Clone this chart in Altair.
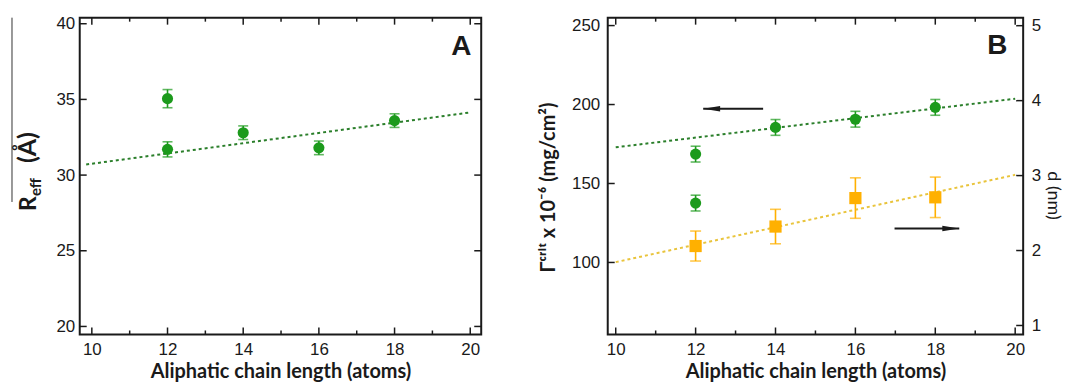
import altair as alt
import pandas as pd

# ---------------- data ----------------
# Panel A
chain_a = [12, 12, 14, 16, 18]
reff = [35.05, 31.70, 32.80, 31.80, 33.60]
reff_err = [0.60, 0.50, 0.45, 0.45, 0.45]
fit_a_x = [9.85, 20.0]
fit_a_y = [30.70, 34.14]

# Panel B, left axis (Gamma crit)
chain_b = [12, 12, 14, 16, 18]
gamma = [168.6, 137.6, 185.5, 190.7, 198.2]
gamma_err = [5.0, 5.0, 5.0, 5.0, 5.0]
fit_g_x = [10.0, 20.0]
fit_g_y = [172.9, 203.7]

# Panel B, right axis (d)
chain_d = [12, 14, 16, 18]
d_nm = [2.06, 2.32, 2.70, 2.71]
d_err = [0.20, 0.23, 0.27, 0.27]
fit_d_x = [10.0, 20.0]
fit_d_y = [1.845, 3.01]

# arrows in panel B (left-axis units)
arrow_tail_x = [13.69, 16.98]
arrow_tip_x = [12.19, 18.60]
arrow_y = [197.3, 121.5]

# ticks
x_major = [10, 12, 14, 16, 18, 20]
x_minor = [11, 13, 15, 17, 19]
a_y_ticks = [20, 25, 30, 35, 40]
b_left_ticks = [100, 150, 200, 250]
b_right_ticks = [1, 2, 3, 4, 5]

x_title = "Aliphatic chain length (atoms)"
b_left_title = "Γᶜʳⁱᵗ x 10⁻⁶ (mg/cm²)"
b_right_title = "d (nm)"
a_title_parts = ["R", "eff", "(Å)"]
panel_labels = ["A", "B"]

# ---------------- styling ----------------
WA, WB, H = 403, 417, 318
GREEN = "#1c9a1c"
GREEN_LINE = "#2b7f2b"
ORANGE = "#ffb000"
ORANGE_LINE = "#e9c43c"
INK = "#1a1a1a"
TICK_FONT = "Liberation Sans"
TITLE_FONT = "Lato"

xa_scale = alt.Scale(domain=[9.68, 20.29], nice=False, zero=False)
ya_scale = alt.Scale(domain=[19.47, 40.4], nice=False, zero=False)
xb_scale = alt.Scale(domain=[9.8, 20.2], nice=False, zero=False)
yg_scale = alt.Scale(domain=[54.4, 255.0], nice=False, zero=False)
yd_scale = alt.Scale(domain=[0.88, 5.107], nice=False, zero=False)

X_AXIS = alt.Axis(values=x_major, ticks=False, domain=False, grid=False,
                  labelFont=TICK_FONT, labelFontSize=17, labelPadding=7,
                  labelFlush=False, labelColor=INK,
                  title=x_title, titleFont=TITLE_FONT, titleFontSize=20,
                  titleFontWeight="bold", titlePadding=4, titleColor=INK)
YA_AXIS = alt.Axis(values=a_y_ticks, ticks=False, domain=False, grid=False,
                   labelFont=TICK_FONT, labelFontSize=17, labelPadding=5,
                   labelColor=INK, title=None)
YG_AXIS = alt.Axis(values=b_left_ticks, ticks=False, domain=False, grid=False,
                   labelFont=TICK_FONT, labelFontSize=17, labelPadding=8,
                   labelColor=INK, title=b_left_title, titleFont=TITLE_FONT,
                   titleFontSize=20, titleFontWeight="bold", titlePadding=13,
                   titleY=170, titleColor=INK)
YD_AXIS = alt.Axis(orient="right", values=b_right_ticks, ticks=False, domain=False,
                   grid=False, labelFont=TICK_FONT, labelFontSize=17, labelPadding=8,
                   labelColor=INK, title=b_right_title, titleFont=TITLE_FONT,
                   titleFontSize=18, titleFontWeight="normal", titlePadding=3,
                   titleY=178, titleColor=INK)


def frame_ticks(xscale, yscale, yaxis, yticks, W, left=True, right=True):
    out = []
    dmaj = pd.DataFrame({"v": x_major})
    dmin = pd.DataFrame({"v": x_minor})
    dy = pd.DataFrame({"v": yticks})
    rule = dict(color=INK, strokeWidth=1.5)
    xe = alt.X("v:Q", scale=xscale, axis=X_AXIS)
    ye = alt.Y("v:Q", scale=yscale, axis=yaxis)
    out.append(alt.Chart(dmaj).mark_rule(**rule).encode(x=xe, y=alt.value(H), y2=alt.value(H - 7)))
    out.append(alt.Chart(dmin).mark_rule(**rule).encode(x=xe, y=alt.value(H), y2=alt.value(H - 4)))
    out.append(alt.Chart(dmaj).mark_rule(**rule).encode(x=xe, y=alt.value(0), y2=alt.value(7)))
    out.append(alt.Chart(dmin).mark_rule(**rule).encode(x=xe, y=alt.value(0), y2=alt.value(4)))
    if left:
        out.append(alt.Chart(dy).mark_rule(**rule).encode(y=ye, x=alt.value(0), x2=alt.value(7)))
    if right:
        out.append(alt.Chart(dy).mark_rule(**rule).encode(y=ye, x=alt.value(W), x2=alt.value(W - 7)))
    return out


def series_layers(xs, ys, errs, xscale, yscale, yaxis, color, shape, size, cap):
    df = pd.DataFrame({"x": xs, "y": ys,
                       "lo": [a - b for a, b in zip(ys, errs)],
                       "hi": [a + b for a, b in zip(ys, errs)]})
    xe = alt.X("x:Q", scale=xscale, axis=X_AXIS)
    base = alt.Chart(df)
    err = base.mark_rule(color=color, strokeWidth=1.6).encode(
        x=xe, y=alt.Y("lo:Q", scale=yscale, axis=yaxis), y2="hi:Q")
    cap_lo = base.mark_tick(color=color, thickness=1.6, size=cap, orient="horizontal").encode(
        x=xe, y=alt.Y("lo:Q", scale=yscale, axis=yaxis))
    cap_hi = base.mark_tick(color=color, thickness=1.6, size=cap, orient="horizontal").encode(
        x=xe, y=alt.Y("hi:Q", scale=yscale, axis=yaxis))
    pts = base.mark_point(filled=True, opacity=1, shape=shape, size=size, color=color).encode(
        x=xe, y=alt.Y("y:Q", scale=yscale, axis=yaxis))
    return [err, cap_lo, cap_hi, pts]


def fit_line(xs, ys, xscale, yscale, yaxis, color):
    return alt.Chart(pd.DataFrame({"x": xs, "y": ys})).mark_line(
        color=color, strokeWidth=2, strokeDash=[3, 3]).encode(
        x=alt.X("x:Q", scale=xscale, axis=X_AXIS),
        y=alt.Y("y:Q", scale=yscale, axis=yaxis))


# ---------------- Panel A ----------------
labelA = alt.Chart(pd.DataFrame({"t": [panel_labels[0]]})).mark_text(
    font=TICK_FONT, fontWeight="bold", fontSize=28, color=INK).encode(
    text="t:N", x=alt.value(WA - 20), y=alt.value(29))

TY0 = 194
TX = -44
title_style = dict(angle=270, align="left", baseline="alphabetic",
                   font=TITLE_FONT, fontWeight="bold", color=INK)
tR = alt.Chart(pd.DataFrame({"t": [a_title_parts[0]]})).mark_text(fontSize=23, **title_style).encode(
    text="t:N", x=alt.value(TX), y=alt.value(TY0))
tEff = alt.Chart(pd.DataFrame({"t": [a_title_parts[1]]})).mark_text(fontSize=15, **title_style).encode(
    text="t:N", x=alt.value(TX + 5), y=alt.value(TY0 - 15))
tAng = alt.Chart(pd.DataFrame({"t": [a_title_parts[2]]})).mark_text(fontSize=25, **title_style).encode(
    text="t:N", x=alt.value(TX), y=alt.value(TY0 - 15 - 18 - 15))
overline = alt.Chart(pd.DataFrame({"k": [0]})).mark_rule(color="#333333", strokeWidth=1).encode(
    x=alt.value(-68), y=alt.value(0), y2=alt.value(185))

panelA = alt.layer(
    fit_line(fit_a_x, fit_a_y, xa_scale, ya_scale, YA_AXIS, GREEN_LINE),
    *series_layers(chain_a, reff, reff_err, xa_scale, ya_scale, YA_AXIS, GREEN, "circle", 125, 10),
    *frame_ticks(xa_scale, ya_scale, YA_AXIS, a_y_ticks, WA),
    labelA, tR, tEff, tAng, overline,
).properties(width=WA, height=H)

# ---------------- Panel B ----------------
arrows = pd.DataFrame({"tail": arrow_tail_x, "tip": arrow_tip_x, "y": arrow_y})
arrow_lines = alt.Chart(arrows).mark_rule(color=INK, strokeWidth=2).encode(
    x=alt.X("tail:Q", scale=xb_scale, axis=X_AXIS), x2="tip:Q",
    y=alt.Y("y:Q", scale=yg_scale, axis=YG_AXIS))
head_left = alt.Chart(arrows.iloc[[0]]).mark_point(
    shape="M-1,0L1,-0.33L1,0.33Z", filled=True, opacity=1, size=289, color=INK, xOffset=8.5).encode(
    x=alt.X("tip:Q", scale=xb_scale, axis=X_AXIS), y=alt.Y("y:Q", scale=yg_scale, axis=YG_AXIS))
head_right = alt.Chart(arrows.iloc[[1]]).mark_point(
    shape="M1,0L-1,-0.33L-1,0.33Z", filled=True, opacity=1, size=289, color=INK, xOffset=-8.5).encode(
    x=alt.X("tip:Q", scale=xb_scale, axis=X_AXIS), y=alt.Y("y:Q", scale=yg_scale, axis=YG_AXIS))

labelB = alt.Chart(pd.DataFrame({"t": [panel_labels[1]]})).mark_text(
    font=TICK_FONT, fontWeight="bold", fontSize=28, color=INK).encode(
    text="t:N", x=alt.value(WB - 26), y=alt.value(28))

left_group = alt.layer(
    fit_line(fit_g_x, fit_g_y, xb_scale, yg_scale, YG_AXIS, GREEN_LINE),
    *series_layers(chain_b, gamma, gamma_err, xb_scale, yg_scale, YG_AXIS, GREEN, "circle", 125, 10),
    *frame_ticks(xb_scale, yg_scale, YG_AXIS, b_left_ticks, WB, left=True, right=False),
    arrow_lines, head_left, head_right, labelB,
)

right_ticks = alt.Chart(pd.DataFrame({"v": b_right_ticks})).mark_rule(color=INK, strokeWidth=1.5).encode(
    y=alt.Y("v:Q", scale=yd_scale, axis=YD_AXIS), x=alt.value(WB), x2=alt.value(WB - 7))

right_group = alt.layer(
    fit_line(fit_d_x, fit_d_y, xb_scale, yd_scale, YD_AXIS, ORANGE_LINE),
    *series_layers(chain_d, d_nm, d_err, xb_scale, yd_scale, YD_AXIS, ORANGE, "square", 150, 11),
    right_ticks,
)

panelB = alt.layer(left_group, right_group).resolve_scale(y="independent").properties(
    width=WB, height=H)

chart = alt.hconcat(panelA, panelB, spacing=54).properties(
    padding={"left": 2, "top": 5, "right": 4, "bottom": 0}
).configure_view(stroke=INK, strokeWidth=2).configure_axis(grid=False)

chart.save("out.html", embed_options={"renderer": "svg", "actions": False})
